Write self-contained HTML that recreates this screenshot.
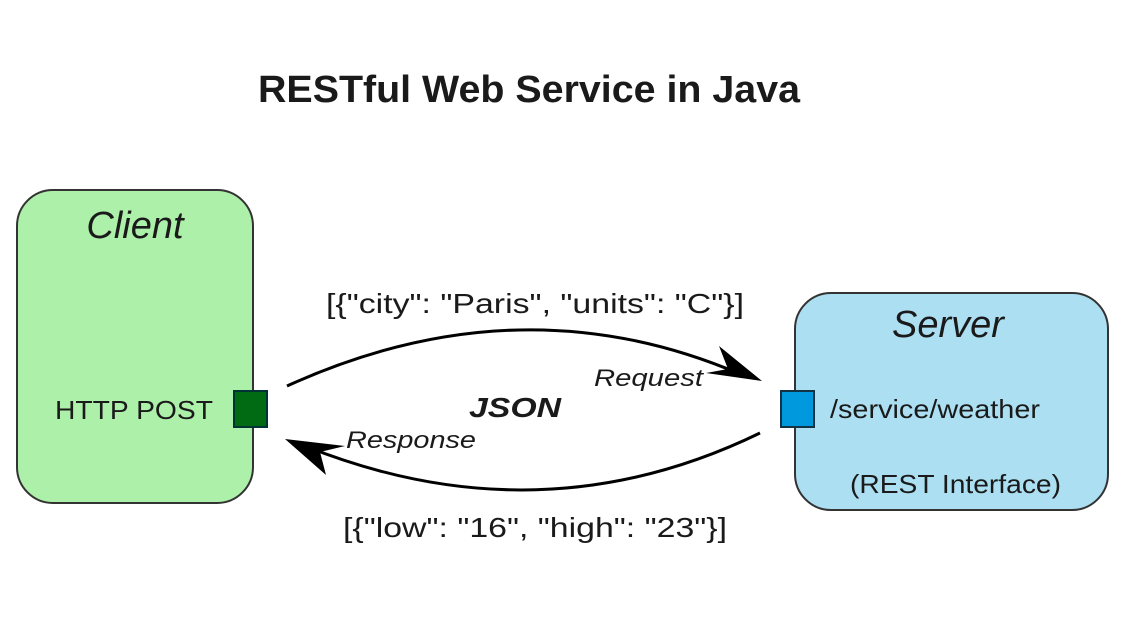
<!DOCTYPE html>
<html><head><meta charset="utf-8"><style>
html,body{margin:0;padding:0;background:#fff;}
svg{display:block;}
text{font-family:"Liberation Sans",Arial,sans-serif;fill:#1a1a1a;}
</style></head><body>
<svg width="1124" height="630" viewBox="0 0 1124 630" xmlns="http://www.w3.org/2000/svg">
<text x="258" y="102" font-size="38" font-weight="bold" fill="#000" textLength="542" lengthAdjust="spacingAndGlyphs">RESTful Web Service in Java</text>

<rect x="17" y="190" width="236" height="313" rx="36" fill="#adf0a9" stroke="#333" stroke-width="2"/>
<text x="135" y="238" font-size="38" font-style="italic" text-anchor="middle">Client</text>
<text x="55" y="419" font-size="26" textLength="158" lengthAdjust="spacingAndGlyphs">HTTP POST</text>
<rect x="234" y="391" width="33" height="36" fill="#006b12" stroke="#033" stroke-width="2"/>

<rect x="795" y="293" width="313" height="217" rx="36" fill="#acdff2" stroke="#333" stroke-width="2"/>
<text x="948" y="337" font-size="38" font-style="italic" text-anchor="middle">Server</text>
<text x="830" y="418" font-size="26" textLength="210" lengthAdjust="spacingAndGlyphs">/service/weather</text>
<text x="850" y="493" font-size="26" textLength="211" lengthAdjust="spacingAndGlyphs">(REST Interface)</text>
<rect x="781" y="391" width="33" height="36" fill="#0099dd" stroke="#134" stroke-width="2"/>

<path d="M287 386 Q520 280 740 374" fill="none" stroke="#000" stroke-width="3"/>
<path d="M762 381 L719 346 L728 369 L706 373 Z" fill="#000"/>
<path d="M760 433 Q540 540 305 446" fill="none" stroke="#000" stroke-width="3"/>
<path d="M285 439 L326 475 L320 452 L345 446 Z" fill="#000"/>

<text x="535" y="313" font-size="28" text-anchor="middle" textLength="418" lengthAdjust="spacingAndGlyphs">[{"city": "Paris", "units": "C"}]</text>
<text x="535" y="537" font-size="28" text-anchor="middle" textLength="384" lengthAdjust="spacingAndGlyphs">[{"low": "16", "high": "23"}]</text>
<text x="594" y="386" font-size="24" font-style="italic" textLength="109" lengthAdjust="spacingAndGlyphs">Request</text>
<text x="346" y="448" font-size="24" font-style="italic" textLength="130" lengthAdjust="spacingAndGlyphs">Response</text>
<text x="515" y="417" font-size="28" font-style="italic" font-weight="bold" text-anchor="middle" textLength="92" lengthAdjust="spacingAndGlyphs">JSON</text>
</svg>
</body></html>
